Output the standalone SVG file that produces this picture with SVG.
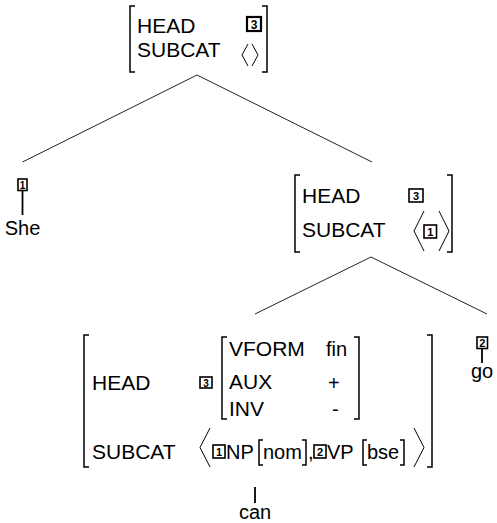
<svg xmlns="http://www.w3.org/2000/svg" width="497" height="523" viewBox="0 0 497 523">
<style>
.t{font-family:"Liberation Sans",Arial,sans-serif;font-size:20px;fill:#000}
.k{font-size:21px}
.m{text-anchor:middle}
.br{fill:none;stroke:#000;stroke-width:1.5}
.ang{fill:none;stroke:#000;stroke-width:1}
.box{fill:#fff;stroke:#000;stroke-width:1.6}
.d{font-family:"Liberation Sans",Arial,sans-serif;font-weight:bold;text-anchor:middle;fill:#000}
.e{fill:none;stroke:#222;stroke-width:1}
.leaf{fill:none;stroke:#000;stroke-width:1.8}
</style>
<rect width="497" height="523" fill="#fff"/>
<g id="connectors">
<path class="e" d="M197,75L22.5,162M197,75L372,162"/>
<path class="e" d="M371,257L255,314M371,257L487,314"/>
<path class="leaf" d="M22.5,190.5V215"/>
<path class="leaf" d="M482,348.5V363"/>
<path class="leaf" d="M255,487V503"/>
</g>
<g id="n-root">
<path class="br" d="M135,6H130V72H135M262,6H267V72H262"/>
<text class="t k" x="137" y="33">HEAD</text>
<text class="t k" x="137" y="57">SUBCAT</text>
<rect class="box" x="247" y="17" width="14" height="14" style="stroke-width:2.2"/>
<text class="d" x="254" y="29" font-size="12">3</text>
<path class="ang" d="M248,44L242,55L248,66M252,44L258,55L252,66"/>
</g>
<g id="n-she">
<rect class="box" x="18" y="179" width="9" height="11.5"/>
<text class="d" x="22.5" y="189" font-size="10">1</text>
<text class="t m" x="22.5" y="235">She</text>
</g>
<g id="n-vp">
<path class="br" d="M300,175H295V252H300M447,175H452V252H447"/>
<text class="t k" x="302" y="203">HEAD</text>
<text class="t k" x="302" y="237">SUBCAT</text>
<rect class="box" x="409" y="189" width="14" height="13"/>
<text class="d" x="416" y="200" font-size="11">3</text>
<path class="ang" d="M424,211L414,231L424,251M439,211L449,231L439,251"/>
<rect class="box" x="424" y="225" width="12.5" height="13"/>
<text class="d" x="430.3" y="236" font-size="11">1</text>
</g>
<g id="n-go">
<rect class="box" x="477" y="337" width="10.5" height="11.5"/>
<text class="d" x="482.2" y="347" font-size="11">2</text>
<text class="t m" x="482" y="378">go</text>
</g>
<g id="n-v">
<path class="br" d="M89,335H84V467H89M427,335H432V467H427"/>
<text class="t k" x="92" y="390">HEAD</text>
<rect class="box" x="200" y="377" width="12" height="11"/>
<text class="d" x="206" y="386.5" font-size="10">3</text>
<path class="br" d="M227,337H222V419H227M354,337H359V419H354"/>
<text class="t k" x="229" y="356">VFORM</text>
<text class="t" x="326" y="356">fin</text>
<text class="t k" x="229" y="389">AUX</text>
<text class="t" x="328" y="390" font-size="26">+</text>
<text class="t k" x="229" y="416">INV</text>
<text class="t" x="332" y="416" font-size="16">-</text>
<text class="t k" x="92" y="459">SUBCAT</text>
<path class="ang" d="M210,428L200,447.5L210,467M414,428L424,447.5L414,467"/>
<rect class="box" x="213" y="445" width="12" height="13"/>
<text class="d" x="219" y="456" font-size="11">1</text>
<text class="t" x="226" y="459">NP</text>
<path class="br" d="M263,440H259V465H263M302,440H306V465H302"/>
<text class="t" x="263" y="459">nom</text>
<text class="t" x="308" y="459">,</text>
<rect class="box" x="314" y="445" width="12" height="13"/>
<text class="d" x="320" y="456" font-size="11">2</text>
<text class="t" x="327" y="459">VP</text>
<path class="br" d="M367,440H363V465H367M400,440H404V465H400"/>
<text class="t" x="367" y="459">bse</text>
</g>
<g id="n-can">
<text class="t m" x="255" y="519">can</text>
</g>
</svg>
